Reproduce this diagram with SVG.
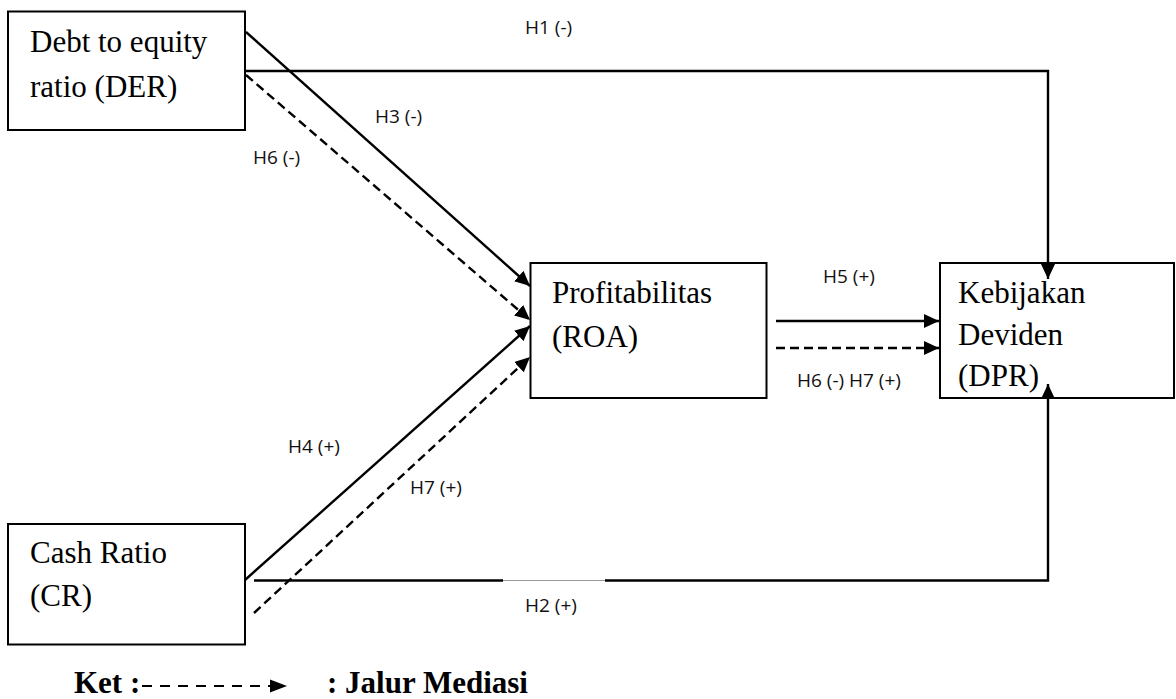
<svg xmlns="http://www.w3.org/2000/svg" width="1176" height="699" viewBox="0 0 1176 699">
<style>
.box{fill:#fff;stroke:#000;stroke-width:2}
.nt{font-family:"Liberation Serif","Times New Roman",serif;font-size:31px;fill:#000}
.lb{font-family:"Open Sans","Liberation Sans",sans-serif;font-size:19px;fill:#111}
.ln{fill:none;stroke:#000;stroke-width:2.4}
.dash{stroke-dasharray:9 5}
.leg{font-family:"Liberation Serif","Times New Roman",serif;font-size:31px;font-weight:bold;fill:#000}
</style>
<defs>
<marker id="ah" markerUnits="userSpaceOnUse" markerWidth="16" markerHeight="14" refX="15" refY="7" orient="auto">
<path d="M0,0 L15,7 L0,14 Z" fill="#000"/>
</marker>
</defs>
<rect width="1176" height="699" fill="#fff"/>
<g id="node-der">
<rect class="box" x="8" y="11.5" width="237" height="118.5"/>
<text class="nt" x="30" y="52">Debt to equity</text>
<text class="nt" x="30" y="97">ratio (DER)</text>
</g>
<g id="node-cr">
<rect class="box" x="8" y="524" width="237" height="120.5"/>
<text class="nt" x="30" y="563">Cash Ratio</text>
<text class="nt" x="30" y="606">(CR)</text>
</g>
<g id="node-roa">
<rect class="box" x="530.5" y="263" width="236" height="135"/>
<text class="nt" x="552" y="303">Profitabilitas</text>
<text class="nt" x="552" y="347">(ROA)</text>
</g>
<g id="node-dpr">
<rect class="box" x="940" y="263" width="234" height="135"/>
<text class="nt" x="958" y="303">Kebijakan</text>
<text class="nt" x="958" y="345">Deviden</text>
<text class="nt" x="958" y="386">(DPR)</text>
</g>
<g id="connectors">
<path class="ln" d="M246,71 H1048 V279" marker-end="url(#ah)"/>
<path class="ln" d="M246,32 L530,286" marker-end="url(#ah)"/>
<path class="ln dash" d="M246,75 L530,320" marker-end="url(#ah)"/>
<path class="ln" d="M245,580 L530,326" marker-end="url(#ah)"/>
<path class="ln dash" d="M254,613 L530,357" marker-end="url(#ah)"/>
<path class="ln" d="M776,321 H939" marker-end="url(#ah)"/>
<path class="ln dash" d="M776,348 H939" marker-end="url(#ah)"/>
<path class="ln" d="M254,580.5 H503"/>
<path d="M503,580.5 H605" stroke="#999" stroke-width="1" fill="none"/>
<path class="ln" d="M605,580.5 H1048 V384" marker-end="url(#ah)"/>
</g>
<g id="labels">
<text class="lb" x="525" y="34">H1 (-)</text>
<text class="lb" x="375" y="123">H3 (-)</text>
<text class="lb" x="253" y="164">H6 (-)</text>
<text class="lb" x="823" y="283">H5 (+)</text>
<text class="lb" x="797" y="387">H6 (-) H7 (+)</text>
<text class="lb" x="288" y="453">H4 (+)</text>
<text class="lb" x="410" y="494">H7 (+)</text>
<text class="lb" x="525" y="612">H2 (+)</text>
</g>
<g id="legend">
<text class="leg" x="74" y="693">Ket :</text>
<path d="M142,686 H270" stroke="#000" stroke-width="2" stroke-dasharray="10 8" fill="none"/>
<path d="M270,679.5 L287,686 L270,692.5 Z" fill="#000"/>
<text class="leg" x="327" y="693">: Jalur Mediasi</text>
</g>
</svg>
